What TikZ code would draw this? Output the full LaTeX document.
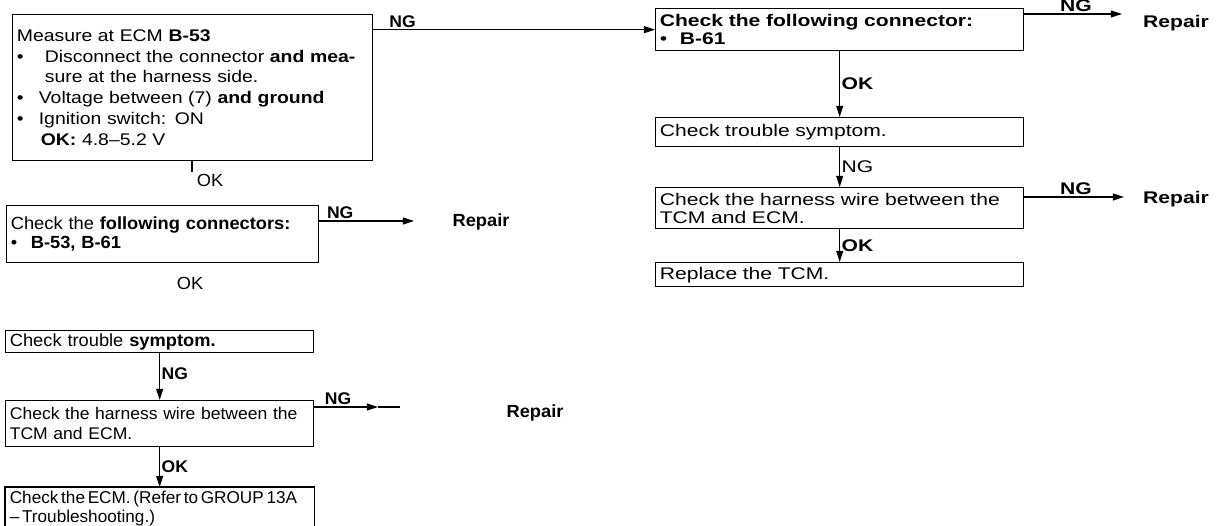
\documentclass[tikz,border=0pt]{standalone}
\usepackage{fontspec}
\setmainfont{Liberation Sans}[FakeStretch=1.04, WordSpace=1.3]
\newfontfamily\widesf{Liberation Sans}[FakeStretch=1.25, WordSpace=1.5]
\newfontfamily\measuresf{Liberation Sans}[FakeStretch=1.15, WordSpace=1.6]
\newfontfamily\tightsf{Liberation Sans}[FakeStretch=1.0]
\usetikzlibrary{arrows.meta, positioning, calc}

\newcommand{\bul}[1][0.7cm]{\makebox[#1][l]{\textbullet}}

\begin{document}
\begin{tikzpicture}[x=0.025cm, y=-0.025cm,
		>={Triangle[length=8pt,width=5pt]},
		font=\fontsize{12.5}{13.5}\selectfont,
		stepbox/.style={draw, line width=0.9pt, anchor=north west, align=left,
			inner xsep=3pt, inner ysep=0pt},
		flow/.style={->, line width=0.9pt},
		lbl/.style={font=\fontsize{12}{13.5}\selectfont\bfseries, inner sep=1pt},
		repair/.style={font=\fontsize{12.5}{13.5}\selectfont\bfseries, inner sep=1pt}]
			\useasboundingbox (0,0) rectangle (1224,526);
			% left column
			\node[stepbox, text width=8.79cm, minimum height=3.65cm,
			font=\fontsize{12}{14.9}\selectfont\measuresf] (measure) at (12,14)
			{Measure at ECM \textbf{B-53}\\
				\bul Disconnect the connector \textbf{and mea-}\\
				\hspace*{0.7cm}sure at the harness side.\\
				\bul[0.55cm]Voltage between (7) \textbf{and ground}\\
				\bul[0.55cm]Ignition switch: ON\\
				\hspace*{0.6cm}\textbf{OK:} 4.8\textendash5.2 V};
			\node[stepbox, text width=7.59cm, minimum height=1.425cm] (conn2) at (6,205)
			{Check the \textbf{following connectors:}\\
				\bul[0.5cm]\textbf{B-53, B-61}};
			\node[inner sep=1pt] (okmid) at (190,283) {OK};
			\node[stepbox, text width=7.49cm, minimum height=0.55cm] (symL) at (5,330)
			{Check trouble \textbf{symptom.}};
			\node[stepbox, text width=7.49cm, minimum height=1.15cm,
			font=\fontsize{12}{14}\selectfont] (harnL) at (5,400)
			{Check the harness wire between the\\TCM and ECM.};
			\node[stepbox, draw=none, text width=7.49cm, minimum height=1.05cm,
			font=\fontsize{12.2}{14}\selectfont\tightsf] (ecm) at (5,487)
			{\spaceskip=0.16em\relax
				\mbox{Check the ECM. (Refer to GROUP 13A}\\\textendash\ Troubleshooting.)};
			\draw[line width=0.9pt] (ecm.south west) -- (ecm.north west) -- (ecm.north east) -- (ecm.south east);
			% right column
			\begin{scope}[font=\fontsize{12}{12.8}\selectfont\widesf]
				\node[stepbox, text width=8.99cm, minimum height=1.05cm] (chkB61) at (655,8)
				{\textbf{Check the following connector:}\\
					\bul[0.5cm]\textbf{B-61}};
				\node[stepbox, text width=8.99cm, minimum height=0.725cm] (symR) at (655,117)
				{Check trouble symptom.};
				\node[stepbox, text width=8.99cm, minimum height=1.025cm] (harnR) at (655,187)
				{Check the harness wire between the\\TCM and ECM.};
				\node[stepbox, text width=8.99cm, minimum height=0.6cm] (repl) at (655,262)
				{Replace the TCM.};
			\end{scope}
			% repair targets
			\node[repair] (repB) at (481,222) {Repair};
			\node[repair] (repC) at (535,413) {Repair};
			\node[repair, font=\fontsize{12}{13.5}\selectfont\widesf\bfseries] (repA) at (1176,23) {Repair};
			\node[repair, font=\fontsize{12}{13.5}\selectfont\widesf\bfseries] (repD) at (1176,199) {Repair};
			\coordinate (ngB) at (414,221);
			\coordinate (ngC) at (378,407);
			\coordinate (ngCend) at (400,407);
			\coordinate (ngA) at (1122,14);
			\coordinate (ngD) at (1124,197);
			\coordinate (okA) at (192,172);
			% connectors
			\draw[flow] (chkB61.west -| measure.east) -- (chkB61.west)
			node[lbl, above right, pos=0, xshift=10pt] {NG};
			\draw[line width=0.9pt] (measure.south -| okA) -- (okA)
			node[below right, inner sep=1pt, xshift=2pt] {OK};
			\draw[flow] (conn2.east |- ngB) -- (ngB)
			node[lbl, above right, pos=0, xshift=4pt] {NG};
			\draw[flow] (symL) -- (harnL)
			node[lbl, right, midway, yshift=2pt] {NG};
			\draw[flow] (harnL.east |- ngC) -- (ngC)
			node[lbl, above right, pos=0, xshift=6pt] {NG};
			\draw[line width=0.9pt] (ngC) -- (ngCend);
			\draw[flow] (harnL) -- (ecm.north)
			node[lbl, right, midway] {OK};
			\draw[flow] (chkB61.east |- ngA) -- (ngA)
			node[lbl, above right, pos=0, xshift=24pt, font=\fontsize{12}{13.5}\selectfont\widesf\bfseries] {NG};
			\draw[flow] (chkB61) -- (symR)
			node[lbl, right, midway, font=\fontsize{12}{13.5}\selectfont\widesf\bfseries] {OK};
			\draw[flow] (symR) -- (harnR)
			node[right, midway, inner sep=1pt, font=\fontsize{12}{13.5}\selectfont\widesf] {NG};
			\draw[flow] (harnR.east |- ngD) -- (ngD)
			node[lbl, above right, pos=0, xshift=24pt, font=\fontsize{12}{13.5}\selectfont\widesf\bfseries] {NG};
			\draw[flow] (harnR) -- (repl)
			node[lbl, right, midway, font=\fontsize{12}{13.5}\selectfont\widesf\bfseries] {OK};
		\end{tikzpicture}
\end{document}
